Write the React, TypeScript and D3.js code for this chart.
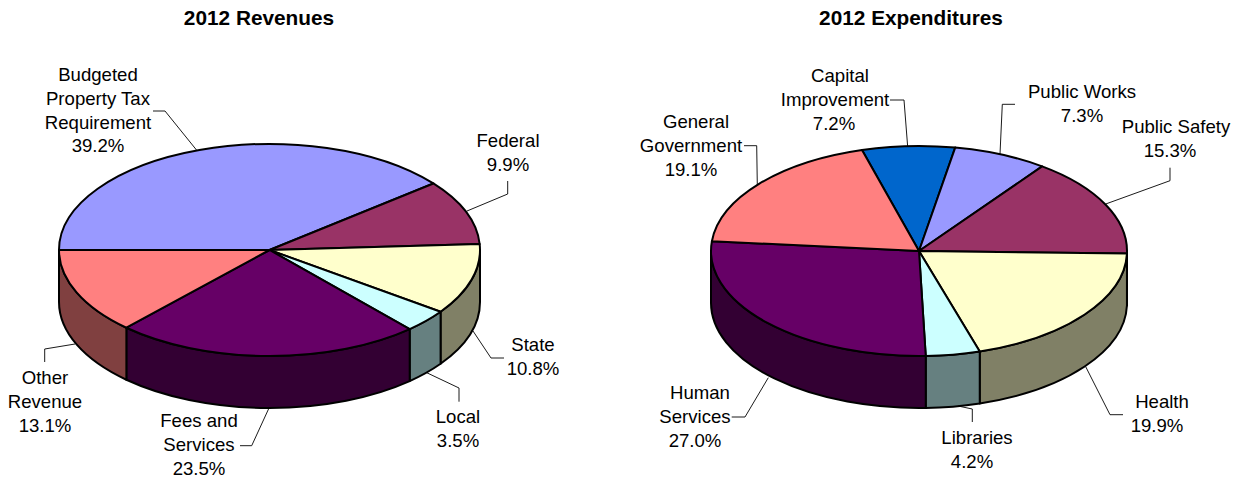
import React from "react";
import * as d3 from "d3";

const WIDTH = 1239;
const HEIGHT = 479;
const FONT = "'Liberation Sans', Arial, sans-serif";

// ---- Data ----
const revenueNames = ["Budgeted Property Tax Requirement", "Federal", "State", "Local", "Fees and Services", "Other Revenue"];
const revenueValues = [39.2, 9.9, 10.8, 3.5, 23.5, 13.1];
const revenueColors = ["#9999FF", "#993366", "#FFFFCC", "#CCFFFF", "#660066", "#FF8080"];
const revenueLabelLines = [
  ["Budgeted", "Property Tax", "Requirement", "39.2%"],
  ["Federal", "9.9%"],
  ["State", "10.8%"],
  ["Local", "3.5%"],
  ["Fees and", "Services", "23.5%"],
  ["Other", "Revenue", "13.1%"],
];

const expenditureNames = ["Capital Improvement", "Public Works", "Public Safety", "Health", "Libraries", "Human Services", "General Government"];
const expenditureValues = [7.2, 7.3, 15.3, 19.9, 4.2, 27.0, 19.1];
const expenditureColors = ["#0066CC", "#9999FF", "#993366", "#FFFFCC", "#CCFFFF", "#660066", "#FF8080"];
const expenditureLabelLines = [
  ["Capital", "Improvement", "7.2%"],
  ["Public Works", "7.3%"],
  ["Public Safety", "15.3%"],
  ["Health", "19.9%"],
  ["Libraries", "4.2%"],
  ["Human", "Services", "27.0%"],
  ["General", "Government", "19.1%"],
];

// ---- Layout ----
const LINE_H = 23.8;
const revenueLayout = {
  title: "2012 Revenues", titleX: 259,
  cx: 269.5, cy: 250, rx: 210.5, ry: 106, depth: 52, start: -Math.PI / 2,
  labels: [
    { x: 98, y: 75 },
    { x: 508, y: 141 },
    { x: 533, y: 345 },
    { x: 458, y: 417 },
    { x: 199, y: 421 },
    { x: 45, y: 378 },
  ],
  leaders: [
    [[153, 111], [165, 111], [196.5, 150]],
    [[507.7, 181], [507.7, 194], [467, 211]],
    [[504, 358], [491, 358], [473, 331]],
    [[459, 401.7], [459, 388], [426.7, 372.7]],
    [[240, 445.7], [251.7, 445.7], [269, 408]],
    [[44.7, 362], [44.7, 349], [75, 344]],
  ],
};
const expenditureLayout = {
  title: "2012 Expenditures", titleX: 911,
  cx: 919, cy: 251, rx: 208, ry: 105, depth: 52, start: (-15.9 * Math.PI) / 180,
  labels: [
    { x: 835, y: 76, xs: [840, 835, 834] },
    { x: 1082, y: 92 },
    { x: 1176, y: 127, xs: [1176, 1170] },
    { x: 1159, y: 402, xs: [1162, 1157] },
    { x: 977, y: 438, xs: [977, 972] },
    { x: 695, y: 393, xs: [700, 695, 695] },
    { x: 697, y: 122, xs: [696, 691, 691] },
  ],
  leaders: [
    [[890, 100], [904, 100], [907.7, 147]],
    [[1015, 104.3], [1002.3, 104.3], [1000, 154]],
    [[1170, 167.7], [1170, 180.7], [1105.7, 204]],
    [[1123, 414.7], [1110, 414.7], [1085.7, 366.7]],
    [[972.3, 422], [972.3, 409], [958, 406]],
    [[731.7, 417], [745, 417], [768.3, 377.7]],
    [[744, 145.7], [756.7, 145.7], [757.3, 185]],
  ],
};

function Pie3D({ names, values, colors, labelLines, layout }: any) {
  const { cx, cy, rx, ry, depth, start } = layout;
  const slices = d3
    .pie<number>()
    .sort(null)
    .value((d) => d)
    .startAngle(start)
    .endAngle(start + 2 * Math.PI)(values);
  const arc = d3.arc<any>().innerRadius(0).outerRadius(rx);
  const px = (a: number) => cx + rx * Math.sin(a);
  const py = (a: number) => cy - ry * Math.cos(a);
  const line = d3.line();

  const walls = slices
    .map((s, i) => {
      const a0 = Math.max(s.startAngle, Math.PI / 2);
      const a1 = Math.min(s.endAngle, (3 * Math.PI) / 2);
      if (a1 <= a0) return null;
      const large = a1 - a0 > Math.PI ? 1 : 0;
      const d =
        `M${px(a0)},${py(a0)}` +
        `A${rx},${ry} 0 ${large} 1 ${px(a1)},${py(a1)}` +
        `L${px(a1)},${py(a1) + depth}` +
        `A${rx},${ry} 0 ${large} 0 ${px(a0)},${py(a0) + depth}Z`;
      const base = d3.rgb(colors[i]);
      const fill = d3.rgb(base.r / 2, base.g / 2, base.b / 2).formatHex();
      return <path key={names[i]} d={d} fill={fill} stroke="#000" strokeWidth={2} strokeLinejoin="round" />;
    })
    .filter(Boolean);

  return (
    <g>
      <text x={layout.titleX} y={25} textAnchor="middle" fontFamily={FONT} fontWeight="bold" fontSize={20.8} fill="#000">
        {layout.title}
      </text>
      {walls}
      <g transform={`translate(${cx},${cy}) scale(1,${ry / rx})`}>
        {slices.map((s, i) => (
          <path
            key={names[i]}
            d={arc(s) as string}
            fill={colors[i]}
            stroke="#000"
            strokeWidth={2}
            strokeLinejoin="round"
            vectorEffect="non-scaling-stroke"
          />
        ))}
      </g>
      {layout.leaders.map((pts: [number, number][], i: number) => (
        <path key={i} d={line(pts) as string} fill="none" stroke="#000" strokeWidth={0.9} />
      ))}
      {labelLines.map((lines: string[], i: number) => {
        const l = layout.labels[i];
        return (
          <g key={i}>
            {lines.map((t, j) => (
              <text
                key={j}
                x={l.xs ? l.xs[j] : l.x}
                y={l.y + j * LINE_H + 6}
                textAnchor="middle"
                fontFamily={FONT}
                fontSize={18.6}
                fill="#000"
              >
                {t}
              </text>
            ))}
          </g>
        );
      })}
    </g>
  );
}

export default function App() {
  return (
    <svg
      width={WIDTH}
      height={HEIGHT}
      viewBox={`0 0 ${WIDTH} ${HEIGHT}`}
      style={{ position: "absolute", left: 0, top: 0, background: "#fff" }}
    >
      <Pie3D names={revenueNames} values={revenueValues} colors={revenueColors} labelLines={revenueLabelLines} layout={revenueLayout} />
      <Pie3D names={expenditureNames} values={expenditureValues} colors={expenditureColors} labelLines={expenditureLabelLines} layout={expenditureLayout} />
    </svg>
  );
}
